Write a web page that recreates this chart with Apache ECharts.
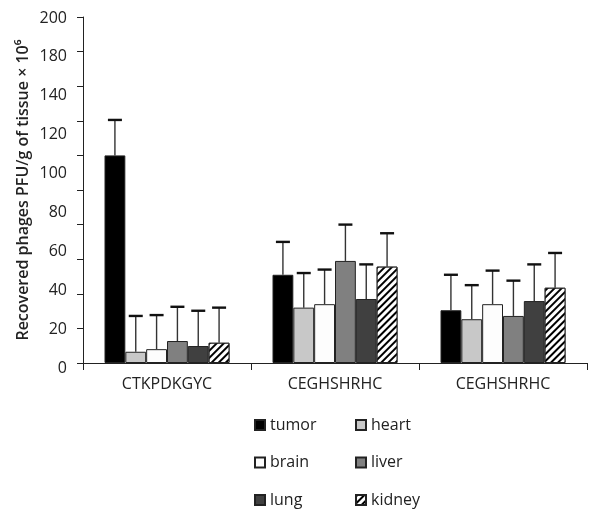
<!DOCTYPE html>
<html><head><meta charset="utf-8">
<script src="https://cdn.jsdelivr.net/npm/echarts@6/dist/echarts.min.js"></script>
<style>html,body{margin:0;padding:0;background:#fff}#c{width:601px;height:509px}</style>
</head><body><div id="c"></div>
<script>
var categories = ['CTKPDKGYC', 'CEGHSHRHC', 'CEGHSHRHC'];
var seriesNames = ['tumor', 'heart', 'brain', 'liver', 'lung', 'kidney'];
var tumor  = [120, 51, 30.5];
var heart  = [6.5, 32, 25.3];
var brain  = [8, 34, 34];
var liver  = [12.7, 59, 27.2];
var lung   = [9.8, 37, 35.8];
var kidney = [11.7, 55.7, 43.5];
// upper ends of error bars
var tumorErr  = [140.5, 70, 51];
var heartErr  = [27.2, 52, 45];
var brainErr  = [27.7, 54, 53.4];
var liverErr  = [32.5, 80, 47.6];
var lungErr   = [30.2, 57, 57];
var kidneyErr = [32, 75, 63.6];
var yTickLabels = ['0', '20', '40', '60', '80', '100', '120', '140', '180', '200'];

var values = [tumor, heart, brain, liver, lung, kidney];
var errs = [tumorErr, heartErr, brainErr, liverErr, lungErr, kidneyErr];
var colors = ['#000000', '#c8c8c8', '#fdfdfd', '#808080', '#404040', '#ffffff'];
var FONT = '"Open Sans", "Noto Sans", sans-serif';
var FS = 16;
var GAP = 0.256;

var chart = echarts.init(document.getElementById('c'));
var series = seriesNames.map(function (n, i) {
  var s = {
    name: n, type: 'bar', xAxisIndex: 0, yAxisIndex: 0,
    barGap: '0%', barCategoryGap: (GAP * 100) + '%',
    data: values[i],
    itemStyle: { color: colors[i], borderColor: '#222', borderWidth: 1 }
  };
  if (n === 'kidney') {
    s.itemStyle.decal = {
      symbol: 'rect', color: '#000', backgroundColor: '#fff',
      dashArrayX: [1, 0], dashArrayY: [1.8, 2.4], rotation: -Math.PI / 4
    };
  }
  return s;
});
var errData = [];
for (var i = 0; i < seriesNames.length; i++) {
  for (var c = 0; c < categories.length; c++) {
    errData.push([c, i, values[i][c], errs[i][c]]);
  }
}
series.push({
  type: 'custom', xAxisIndex: 0, yAxisIndex: 0, z: 5, silent: true,
  data: errData,
  renderItem: function (params, api) {
    var cat = api.value(0), idx = api.value(1), v = api.value(2), e = api.value(3);
    var band = api.size([1, 0])[0];
    var gw = band * (1 - GAP);
    var bw = gw / seriesNames.length;
    var p0 = api.coord([cat, v]);
    var p1 = api.coord([cat, e]);
    var x = p0[0] - gw / 2 + (idx + 0.5) * bw;
    return {
      type: 'group', children: [
        { type: 'line', shape: { x1: x, y1: p0[1], x2: x, y2: p1[1] }, style: { stroke: '#333', lineWidth: 1.4 } },
        { type: 'line', shape: { x1: x - 7, y1: p1[1], x2: x + 7, y2: p1[1] }, style: { stroke: '#111', lineWidth: 2.4 } }
      ]
    };
  }
});

var legendCommon = {
  orient: 'vertical', selectedMode: false, icon: 'rect', padding: 0, height: 110,
  itemWidth: 10, itemHeight: 10, itemGap: 19.5,
  textStyle: { fontFamily: FONT, fontSize: FS, lineHeight: 18, color: '#222' }
};

chart.setOption({
  animation: false,
  backgroundColor: '#fff',
  grid: [
    { left: 83, right: 14, top: 17, bottom: 146 },
    { left: 83, right: 14, top: 18, bottom: 141 }
  ],
  legend: [
    Object.assign({ left: 254, top: 416, data: ['tumor', 'brain', 'lung'] }, legendCommon),
    Object.assign({ left: 355, top: 416, data: ['heart', 'liver', 'kidney'] }, legendCommon)
  ],
  xAxis: [
    {
      type: 'category', data: categories, gridIndex: 0,
      axisLine: { lineStyle: { color: '#222', width: 1 } },
      axisTick: { show: true, length: 7, alignWithLabel: false, lineStyle: { color: '#222' } },
      axisLabel: { fontFamily: FONT, fontSize: FS, color: '#222', margin: 13 }
    },
    { type: 'value', gridIndex: 1, show: false, min: 0, max: 1 }
  ],
  yAxis: [
    {
      type: 'value', gridIndex: 0, min: 0, max: 200, interval: 20,
      name: 'Recovered phages PFU/g of tissue × 10⁶',
      nameLocation: 'middle', nameGap: 52,
      nameTextStyle: { fontFamily: FONT, fontSize: FS, fontWeight: 600, color: '#222' },
      axisLine: { show: true, lineStyle: { color: '#222', width: 1 } },
      axisTick: { show: true, length: 6, lineStyle: { color: '#222' } },
      axisLabel: { show: false },
      splitLine: { show: false }
    },
    {
      type: 'value', gridIndex: 1, min: 0, max: 180, interval: 20,
      axisLine: { show: false }, axisTick: { show: false }, splitLine: { show: false },
      axisLabel: {
        fontFamily: FONT, fontSize: FS, color: '#222', margin: 16,
        formatter: function (v) { return yTickLabels[Math.round(v / 20)]; }
      }
    }
  ],
  series: series
});
</script>
</body></html>
